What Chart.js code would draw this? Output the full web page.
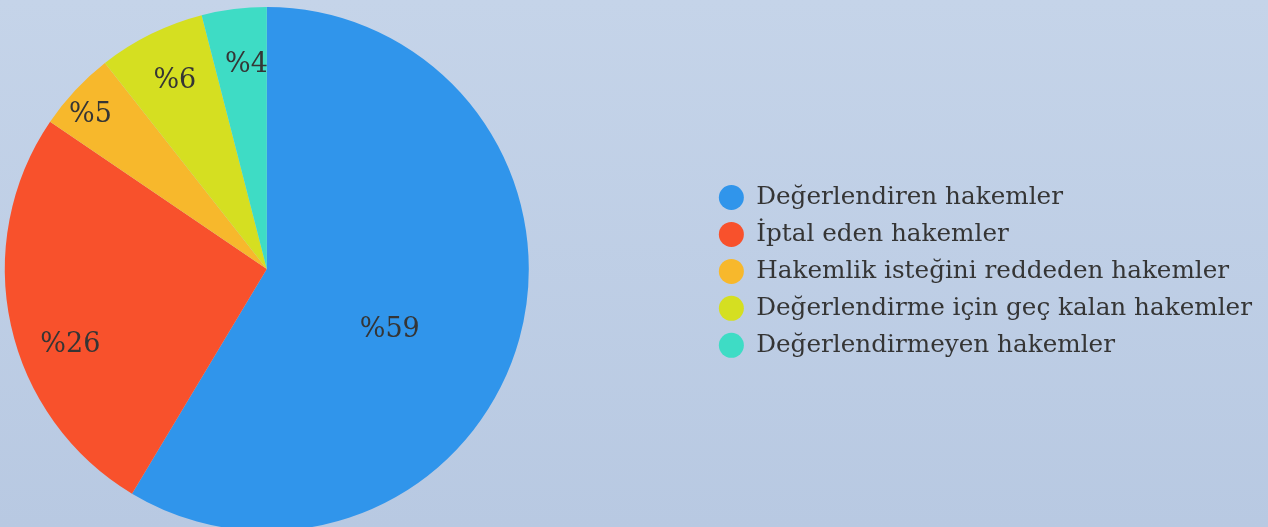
<!DOCTYPE html>
<html lang="tr">
<head>
<meta charset="utf-8">
<script src="https://cdn.jsdelivr.net/npm/chart.js@4.4.1/dist/chart.umd.min.js"></script>
<style>
    html, body { margin: 0; padding: 0; width: 1268px; height: 527px; overflow: hidden; }
    body { position: relative; background: linear-gradient(to bottom, #c5d4e9, #b8c9e2); }
    /* canvas runs off the left edge so the pie sits where the original has it */
    #wrap { position: absolute; left: -173px; top: 7px; width: 1441px; height: 524px; }
</style>
</head>
<body>
<div id="wrap"><canvas id="refereeChart"></canvas></div>
<script>
const categories = [
    "Değerlendiren hakemler",
    "İptal eden hakemler",
    "Hakemlik isteğini reddeden hakemler",
    "Değerlendirme için geç kalan hakemler",
    "Değerlendirmeyen hakemler"
];
const shares = [58.6, 25.9, 4.9, 6.6, 4.0];
const shareLabels = ["%59", "%26", "%5", "%6", "%4"];
const sliceColors = ["#3095eb", "#f8512c", "#f7b82c", "#d5df21", "#3edcc5"];

// where each percentage sits: angle shift from the slice middle (deg), distance as part of the radius
const labelPlacement = [
    { shift: 10, r: 0.52 },
    { shift: -8, r: 0.80 },
    { shift: -1.4, r: 0.90 },
    { shift: 0.6, r: 0.81 },
    { shift: 1.6, r: 0.795 }
];

const textColor = "#353535";

const sliceLabels = {
    id: "sliceLabels",
    afterDatasetsDraw(chart) {
        const ctx = chart.ctx;
        const arcs = chart.getDatasetMeta(0).data;
        const size = 27;
        ctx.save();
        ctx.font = size + 'px "DejaVu Serif"';
        ctx.fillStyle = textColor;
        ctx.textAlign = "center";
        ctx.textBaseline = "alphabetic";
        arcs.forEach((arc, i) => {
            const { x, y, startAngle, endAngle, outerRadius } = arc.getProps(["x", "y", "startAngle", "endAngle", "outerRadius"], true);
            const p = labelPlacement[i];
            const a = (startAngle + endAngle) / 2 + p.shift * Math.PI / 180;
            const d = outerRadius * p.r;
            ctx.fillText(shareLabels[i], x + Math.cos(a) * d, y + Math.sin(a) * d + size * 0.729 / 2);
        });
        ctx.restore();
    }
};

const ctx = document.getElementById("refereeChart").getContext("2d");
new Chart(ctx, {
    type: "pie",
    data: {
        labels: categories,
        datasets: [{
            data: shares,
            backgroundColor: sliceColors,
            borderWidth: 0
        }]
    },
    options: {
        responsive: true,
        maintainAspectRatio: false,
        animation: false,
        events: [],
        layout: { padding: { right: 6 } },
        plugins: {
            legend: {
                position: "right",
                // empty title only nudges the items a few px down
                title: { display: true, text: "", font: { size: 4 }, padding: 0 },
                labels: {
                    usePointStyle: true,
                    pointStyle: "circle",
                    pointStyleWidth: 25,
                    boxHeight: 17.7,
                    padding: 12.25,
                    color: textColor,
                    font: { family: "DejaVu Serif", size: 24.7 }
                }
            },
            tooltip: { enabled: false }
        }
    },
    plugins: [sliceLabels]
});
</script>
</body>
</html>
